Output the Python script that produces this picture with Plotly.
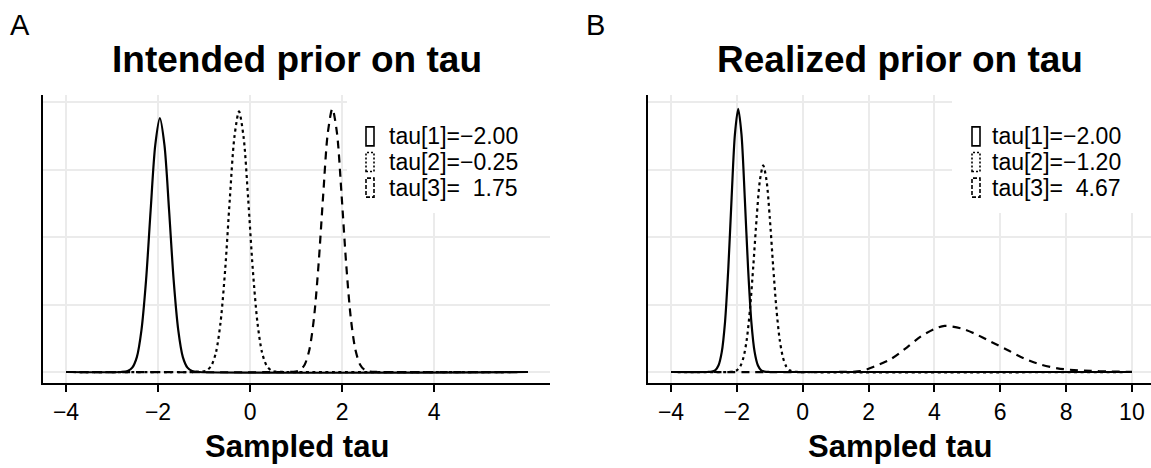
import plotly.graph_objects as go

# ---------------- data ----------------
# Panel A: intended prior densities
a_solid_x = [-4.0, -2.8, -2.66, -2.56, -2.46, -2.36, -2.26, -2.16, -2.06, -1.96, -1.86, -1.76, -1.66, -1.56, -1.46, -1.36, -1.26, -1.1, 6.04]
a_solid_y = [0, 0, 0.007, 0.032, 0.11, 0.31, 0.68, 1.20, 1.68, 1.88, 1.68, 1.20, 0.68, 0.31, 0.11, 0.032, 0.007, 0, 0]

a_dot_x = [-4.0, -1.2, -1.04, -0.94, -0.84, -0.74, -0.64, -0.54, -0.44, -0.34, -0.24, -0.14, -0.04, 0.06, 0.16, 0.26, 0.36, 0.46, 0.56, 0.8, 6.04]
a_dot_y = [0, 0, 0.0025, 0.012, 0.047, 0.146, 0.37, 0.76, 1.28, 1.74, 1.93, 1.74, 1.28, 0.76, 0.37, 0.146, 0.047, 0.012, 0.0025, 0, 0]

a_dash_x = [-4.0, 0.8, 0.99, 1.09, 1.19, 1.29, 1.39, 1.49, 1.59, 1.69, 1.79, 1.89, 1.99, 2.09, 2.19, 2.29, 2.39, 2.49, 2.59, 2.8, 6.04]
a_dash_y = [0, 0, 0.0035, 0.015, 0.056, 0.165, 0.40, 0.80, 1.31, 1.77, 1.95, 1.77, 1.31, 0.80, 0.40, 0.165, 0.056, 0.015, 0.0035, 0, 0]

# Panel B: realized prior densities
b_solid_x = [-4.0, -2.9, -2.76, -2.66, -2.56, -2.46, -2.36, -2.26, -2.16, -2.06, -1.96, -1.86, -1.76, -1.66, -1.56, -1.46, -1.36, -1.26, -1.16, -1.0, 10.0]
b_solid_y = [0, 0, 0.0025, 0.012, 0.048, 0.147, 0.37, 0.77, 1.29, 1.76, 1.95, 1.76, 1.29, 0.77, 0.37, 0.147, 0.048, 0.012, 0.0025, 0, 0]

b_dot_x = [-4.0, -2.3, -2.1, -2.0, -1.9, -1.8, -1.7, -1.6, -1.5, -1.4, -1.3, -1.2, -1.1, -1.0, -0.9, -0.8, -0.7, -0.6, -0.5, -0.4, -0.3, -0.1, 10.0]
b_dot_y = [0, 0, 0.004, 0.013, 0.041, 0.107, 0.24, 0.47, 0.79, 1.14, 1.42, 1.53, 1.42, 1.14, 0.79, 0.47, 0.24, 0.107, 0.041, 0.013, 0.004, 0, 0]

b_dash_x = [-4.0, 0.8, 1.3, 1.76, 2.17, 2.67, 3.18, 3.58, 3.99, 4.31, 4.8, 5.2, 5.71, 6.22, 6.72, 7.23, 7.74, 8.24, 8.75, 9.25, 10.0]
b_dash_y = [0, 0, 0.001, 0.006, 0.04, 0.095, 0.185, 0.262, 0.318, 0.341, 0.324, 0.287, 0.225, 0.163, 0.101, 0.055, 0.027, 0.014, 0.008, 0.004, 0.001]

legend_a = ["tau[1]=\u22122.00", "tau[2]=\u22120.25", "tau[3]=\u00a0\u00a01.75"]
legend_b = ["tau[1]=\u22122.00", "tau[2]=\u22121.20", "tau[3]=\u00a0\u00a04.67"]

ticks_a = [-4, -2, 0, 2, 4]
ticks_b = [-4, -2, 0, 2, 4, 6, 8, 10]
ytick_vals = [0, 0.5, 1.0, 1.5, 2.0]

titles = ["Intended prior on tau", "Realized prior on tau"]
panel_letters = ["A", "B"]
xlabel = "Sampled tau"

# ---------------- figure ----------------
W, H = 1151, 468
FONT = "Liberation Sans, Arial, Helvetica, sans-serif"
DOT = "3px,3.5px"
DASH = "8px,6px"
LW = 2.2

def px(x):
    return x / W

def py(y):
    return (H - y) / H

fig = go.Figure()
styles = ["solid", DOT, DASH]

for (xs, ys), dash in zip([(a_solid_x, a_solid_y), (a_dot_x, a_dot_y), (a_dash_x, a_dash_y)], styles):
    fig.add_trace(go.Scatter(x=xs, y=ys, mode="lines", xaxis="x", yaxis="y",
                             line=dict(color="black", width=LW, dash=dash, shape="spline", smoothing=0.8),
                             showlegend=False, hoverinfo="skip"))
for (xs, ys), dash in zip([(b_solid_x, b_solid_y), (b_dot_x, b_dot_y), (b_dash_x, b_dash_y)], styles):
    fig.add_trace(go.Scatter(x=xs, y=ys, mode="lines", xaxis="x2", yaxis="y2",
                             line=dict(color="black", width=LW, dash=dash, shape="spline", smoothing=0.8),
                             showlegend=False, hoverinfo="skip"))

xa = dict(showline=True, linecolor="black", linewidth=2, ticks="outside", ticklen=7, tickwidth=2,
          tickcolor="black", showgrid=True, gridcolor="#EBEBEB", gridwidth=1.6, zeroline=False,
          tickfont=dict(family=FONT, size=23, color="black"), fixedrange=True)
ya = dict(showline=True, linecolor="black", linewidth=2, ticks="", showticklabels=False,
          showgrid=True, gridcolor="#EBEBEB", gridwidth=1.6, zeroline=False,
          tickmode="array", tickvals=ytick_vals, range=[-0.0815, 2.052], fixedrange=True)

fig.update_layout(
    width=W, height=H, margin=dict(l=0, r=0, t=0, b=0),
    paper_bgcolor="white", plot_bgcolor="white",
    xaxis=dict(xa, domain=[px(43), px(550)], range=[-4.5, 6.52], tickmode="array",
               tickvals=ticks_a, ticktext=[str(v).replace("-", "\u2212") for v in ticks_a], anchor="y"),
    yaxis=dict(ya, domain=[py(383), py(95)], anchor="x"),
    xaxis2=dict(xa, domain=[px(648), 1.0], range=[-4.7, 10.58], tickmode="array",
                tickvals=ticks_b, ticktext=[str(v).replace("-", "\u2212") for v in ticks_b], anchor="y2"),
    yaxis2=dict(ya, domain=[py(383), py(95)], anchor="x2"),
    showlegend=False,
)

shapes = []
annots = []
ROW = 25.6
# legend boxes and keys
for (bx0, bx1, kx, tx, labels) in [(347, 551, 366, 389, legend_a), (952, 1151, 972, 992, legend_b)]:
    shapes.append(dict(type="rect", xref="paper", yref="paper", x0=px(bx0), x1=px(bx1), y0=py(213), y1=py(88),
                       fillcolor="white", line=dict(width=0), layer="above"))
    for i, (dash, lab) in enumerate(zip(styles, labels)):
        cy = 162 + (i - 1) * ROW
        kdash = "solid" if dash == "solid" else ("2px,2px" if dash == DOT else "4px,2px")
        shapes.append(dict(type="rect", xref="paper", yref="paper", x0=px(kx), x1=px(kx + 8),
                           y0=py(cy + 9.5), y1=py(cy - 9.5), fillcolor="white",
                           line=dict(color="black", width=1.6, dash=kdash), layer="above"))
        annots.append(dict(text=lab, xref="paper", yref="paper", x=px(tx), y=py(cy), xanchor="left", yanchor="middle",
                           showarrow=False, borderpad=0, borderwidth=0,
                           font=dict(family=FONT, size=23, color="black")))

# titles, panel letters, x labels
for title, letter, (d0, d1), lx in zip(titles, panel_letters, [(43, 550), (648, 1151)], [8, 584]):
    cx = (d0 + d1) / 2
    annots.append(dict(text="<b>%s</b>" % title, xref="paper", yref="paper", x=px(cx), y=py(59),
                       xanchor="center", yanchor="middle", showarrow=False,
                       font=dict(family=FONT, size=37, color="black")))
    annots.append(dict(text=letter, xref="paper", yref="paper", x=px(lx), y=py(25),
                       xanchor="left", yanchor="middle", showarrow=False,
                       font=dict(family=FONT, size=29, color="black")))
    annots.append(dict(text="<b>%s</b>" % xlabel, xref="paper", yref="paper", x=px(cx), y=py(446),
                       xanchor="center", yanchor="middle", showarrow=False,
                       font=dict(family=FONT, size=31, color="black")))

fig.update_layout(shapes=shapes, annotations=annots)

fig.write_html("out.html", config={"displayModeBar": False},
               post_script="document.body.style.margin='0';document.body.style.overflow='hidden';")
